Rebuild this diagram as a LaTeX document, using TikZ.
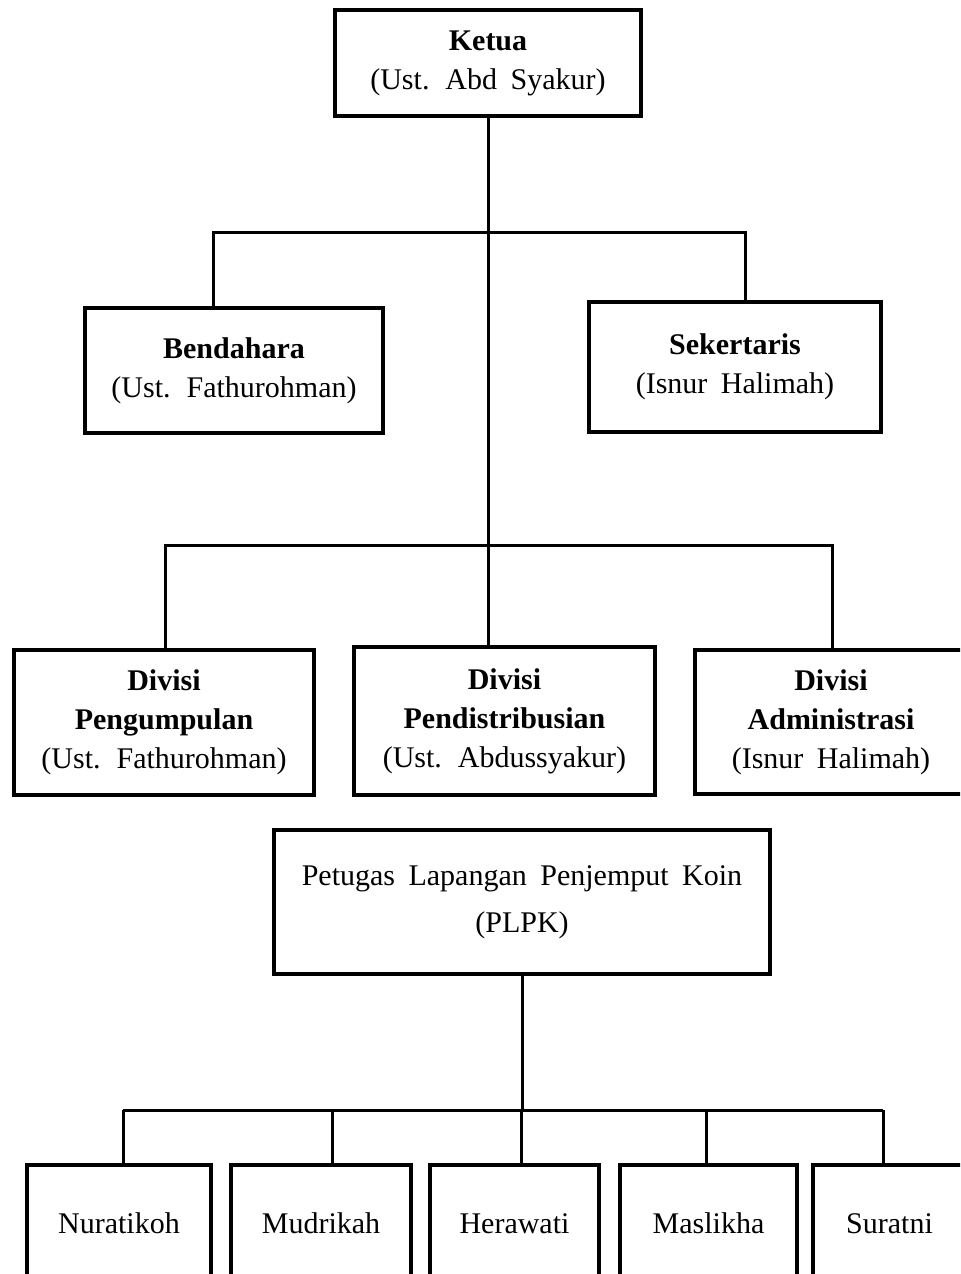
\documentclass[tikz,border=0pt]{standalone}
\usepackage{fontspec}
\setmainfont{Liberation Serif}
\usepackage{tikz}

\newcommand{\widesp}{\spaceskip=0.45em plus 0.1em\relax}

\begin{document}
\begin{tikzpicture}[x=0.5pt,y=-0.5pt,
    box/.style={draw,line width=2.2pt,inner sep=0pt,align=center,
        font=\fontsize{15}{19.5}\selectfont\widesp},
    link/.style={line width=1.5pt}]
    \useasboundingbox (0,0) rectangle (960,1274);
    \clip (0,0) rectangle (960,1274);

    % pimpinan
    \node[box,minimum width=153pt,minimum height=53pt] (ketua) at (488,63)
        {\textbf{Ketua}\\(Ust. Abd Syakur)};
    \node[box,minimum width=149pt,minimum height=62.5pt] (bendahara) at (234,370.5)
        {\textbf{Bendahara}\\(Ust. Fathurohman)};
    \node[box,minimum width=146pt,minimum height=65pt] (sekertaris) at (735,367)
        {\textbf{Sekertaris}\\(Isnur Halimah)};

    % divisi
    \node[box,minimum width=150pt,minimum height=72.5pt] (pengumpulan) at (164,722.5)
        {\textbf{Divisi}\\\textbf{Pengumpulan}\\(Ust. Fathurohman)};
    \node[box,minimum width=150.5pt,minimum height=74pt] (pendistribusian) at (504.5,721)
        {\textbf{Divisi}\\\textbf{Pendistribusian}\\(Ust. Abdussyakur)};
    \node[box,minimum width=136pt,minimum height=72pt] (administrasi) at (831,722)
        {\textbf{Divisi}\\\textbf{Administrasi}\\(Isnur Halimah)};

    \node[box,minimum width=248pt,minimum height=72pt] (plpk) at (522,902)
        {Petugas Lapangan Penjemput Koin\\[4pt](PLPK)};

    % garis ketua
    \coordinate (bk) at (213,232);
    \coordinate (sk) at (745,232);
    \draw[link] (bk |- bendahara.north) -- (bk) -- (sk) -- (sk |- sekertaris.north);
    \draw[link] (ketua.south) -- (ketua.south |- pendistribusian.north);

    \coordinate (dl) at (165,545);
    \coordinate (dr) at (832,545);
    \draw[link] (dl |- pengumpulan.north) -- (dl) -- (dr) -- (dr |- administrasi.north);

    % petugas lapangan
    \foreach \cx/\w/\lx/\nm/\name in {119/92/123/n1/Nuratikoh,321/90/332/n2/Mudrikah,
        514.5/84.5/521/n3/Herawati,708.5/88.5/706/n4/Maslikha,889.5/76.5/883/n5/Suratni}{
        \node[box,minimum width=\w pt,minimum height=60pt,text height=10pt,text depth=2pt]
            (\nm) at (\cx,1225) {\name};
        \coordinate (bar-\nm) at (\lx,1110);
        \draw[link] (bar-\nm) -- (bar-\nm |- \nm.north);
    }
    \draw[link] (bar-n1) -- (bar-n5);
    \draw[link] (plpk.south) -- (plpk.south |- bar-n1);
\end{tikzpicture}
\end{document}
